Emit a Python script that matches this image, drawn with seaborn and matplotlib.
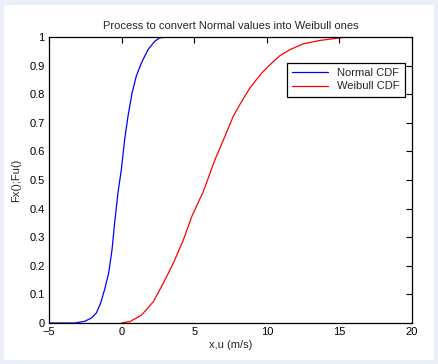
import numpy as np
import pandas as pd
import matplotlib
matplotlib.use("Agg")
import matplotlib.pyplot as plt
import seaborn as sns
from matplotlib.patches import Rectangle

# Data
normal_x = [-5.0, -4.0, -3.2, -3.0, -2.54, -2.09, -1.74, -1.44, -1.17, -0.89, -0.66,
            -0.48, -0.25, -0.02, 0.21, 0.44, 0.72, 1.01, 1.36, 1.82, 2.28, 2.62, 3.2]
normal_y = [0.0, 0.0, 0.0, 0.002, 0.006, 0.017, 0.035, 0.07, 0.117, 0.175, 0.256,
            0.35, 0.455, 0.536, 0.641, 0.723, 0.804, 0.863, 0.909, 0.956, 0.985, 0.997, 1.0]
weibull_x = [0.0, 0.58, 1.38, 2.18, 2.87, 3.56, 4.25, 4.83, 5.63, 6.43, 7.12,
             7.69, 8.27, 8.84, 9.65, 10.22, 10.91, 11.6, 12.51, 13.66, 15.04, 15.5, 16.76]
weibull_y = [0.0, 0.005, 0.028, 0.074, 0.139, 0.209, 0.29, 0.372, 0.46, 0.571, 0.653,
             0.723, 0.775, 0.822, 0.874, 0.903, 0.935, 0.956, 0.976, 0.988, 0.997, 1.0, 1.0]
x_ticks = [-5, 0, 5, 10, 15, 20]
y_ticks = [0, 0.1, 0.2, 0.3, 0.4, 0.5, 0.6, 0.7, 0.8, 0.9, 1]
y_tick_labels = ["0", "0.1", "0.2", "0.3", "0.4", "0.5", "0.6", "0.7", "0.8", "0.9", "1"]
series_names = ["Normal CDF", "Weibull CDF"]

df = pd.concat([
    pd.DataFrame({"x": normal_x, "y": normal_y, "series": series_names[0]}),
    pd.DataFrame({"x": weibull_x, "y": weibull_y, "series": series_names[1]}),
], ignore_index=True)

sns.set_style("white")
plt.rcParams["font.family"] = ["Liberation Sans", "DejaVu Sans"]

fig = plt.figure(figsize=(4.39, 3.64), dpi=100)
fig.patch.set_facecolor("#ebf0f8")
fig.patches.append(Rectangle((4 / 439, 1 - 360 / 364), 430 / 439, 355 / 364,
                             transform=fig.transFigure, facecolor="white",
                             edgecolor="none", zorder=-10))
ax = fig.add_axes([49 / 439, 1 - 323 / 364, 363 / 439, 286 / 364])

sns.lineplot(data=df, x="x", y="y", hue="series", palette=["#0000ff", "#ff0000"],
             estimator=None, sort=False, linewidth=0.9, ax=ax)

ax.set_xlim(-5, 20)
ax.set_ylim(0, 1)
ax.set_xticks(x_ticks)
ax.set_yticks(y_ticks)
ax.set_yticklabels(y_tick_labels)
for s in ax.spines.values():
    s.set_visible(True)
    s.set_color("black")
    s.set_linewidth(0.9)
ax.tick_params(direction="in", length=4, width=0.8, top=True, right=True,
               labelsize=8, colors="black", pad=3)
ax.set_title("Process to convert Normal values into Weibull ones", fontsize=8, pad=6)
ax.set_xlabel("x,u (m/s)", fontsize=8, labelpad=2)
ax.set_ylabel("Fx();Fu()", fontsize=8, labelpad=6)

leg = ax.legend(loc="upper right", bbox_to_anchor=(0.995, 0.93), fontsize=8,
                frameon=True, fancybox=False, handlelength=3.2, borderpad=0.5,
                labelspacing=0.3, handletextpad=0.8)
leg.get_frame().set_edgecolor("black")
leg.get_frame().set_linewidth(0.9)
leg.get_frame().set_alpha(1)

fig.savefig("out.png", dpi=100, facecolor=fig.get_facecolor())
